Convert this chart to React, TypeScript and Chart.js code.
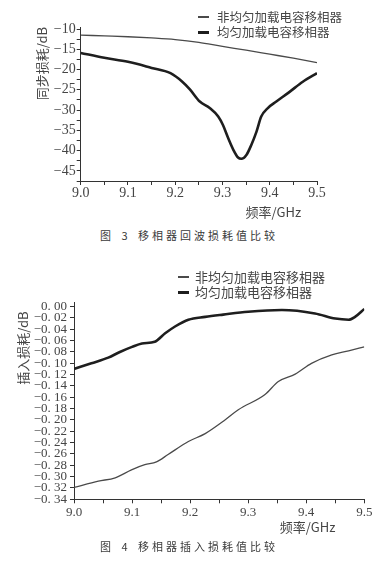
import React, { useEffect, useRef } from 'react';
import { Chart, registerables } from 'chart.js';

Chart.register(...registerables);

// ---------- shared ----------
const seriesNames = ['非均匀加载电容移相器', '均匀加载电容移相器'];
const seriesColors = ['#4a4a4a', '#1e1e1e'];
const seriesWidths = [1.3, 2.6];

const freqTicks = [9.0, 9.05, 9.1, 9.15, 9.2, 9.25, 9.3, 9.35, 9.4, 9.45, 9.5];
const freqTickLabels = ['9.0', '', '9.1', '', '9.2', '', '9.3', '', '9.4', '', '9.5'];

// ---------- Fig. 3 : return loss ----------
const rlFreqNonUniform = [9.0, 9.05, 9.1, 9.15, 9.2, 9.25, 9.3, 9.35, 9.4, 9.45, 9.5];
const rlNonUniform = [-11.5, -11.7, -11.9, -12.2, -12.6, -13.3, -14.3, -15.2, -16.2, -17.2, -18.3];
const rlFreqUniform = [9.0, 9.05, 9.1, 9.15, 9.19, 9.215, 9.231, 9.252, 9.273, 9.291, 9.301, 9.312, 9.323, 9.333, 9.34, 9.351, 9.361, 9.372, 9.382, 9.396, 9.414, 9.442, 9.47, 9.5];
const rlUniform = [-15.9, -17.1, -18.1, -19.6, -20.9, -23.0, -24.9, -27.9, -29.5, -31.6, -33.7, -36.9, -39.8, -41.7, -42.0, -41.0, -38.6, -35.3, -31.6, -29.5, -27.9, -25.5, -23.0, -20.9];
const rlTicks = [-47.5, -45, -42.5, -40, -37.5, -35, -32.5, -30, -27.5, -25, -22.5, -20, -17.5, -15, -12.5, -10];
const rlTickLabels = ['', '−45', '', '−40', '', '−35', '', '−30', '', '−25', '', '−20', '', '−15', '', '−10'];

// ---------- Fig. 4 : insertion loss ----------
const ilFreqNonUniform = [9.0, 9.042, 9.071, 9.099, 9.122, 9.142, 9.162, 9.197, 9.226, 9.26, 9.283, 9.329, 9.352, 9.381, 9.409, 9.444, 9.473, 9.5];
const ilNonUniform = [-0.319, -0.308, -0.302, -0.288, -0.279, -0.274, -0.261, -0.238, -0.224, -0.2, -0.182, -0.155, -0.132, -0.119, -0.1, -0.085, -0.078, -0.071];
const ilFreqUniform = [9.0, 9.03, 9.059, 9.079, 9.1, 9.117, 9.139, 9.157, 9.174, 9.197, 9.226, 9.257, 9.3, 9.358, 9.415, 9.45, 9.473, 9.484, 9.5];
const ilUniform = [-0.11, -0.1, -0.09, -0.08, -0.071, -0.065, -0.062, -0.047, -0.035, -0.023, -0.018, -0.014, -0.009, -0.006, -0.012, -0.021, -0.023, -0.018, -0.004];
const ilTicks = [-0.34, -0.32, -0.3, -0.28, -0.26, -0.24, -0.22, -0.2, -0.18, -0.16, -0.14, -0.12, -0.1, -0.08, -0.06, -0.04, -0.02, 0];
const ilTickLabels = ['−0. 34', '−0. 32', '−0. 30', '−0. 28', '−0. 26', '−0. 24', '−0. 22', '−0. 20', '−0. 18', '−0. 16', '−0. 14', '−0. 12', '−0. 10', '−0. 08', '−0. 06', '−0. 04', '−0. 02', '0. 00'];

const TEXT = '#454545';
const AXIS = '#333333';
const CJK = "'Noto Sans CJK SC', sans-serif";
const SERIF = "'Liberation Serif', 'DejaVu Serif', serif";

type Spec = {
  width: number;
  height: number;
  xs: number[][];
  ys: number[][];
  yMin: number;
  yMax: number;
  yTicks: number[];
  yLabels: string[];
  yTitle: string;
  xTitle: string;
  pad: { left: number; right: number; top: number; bottom: number };
  yWidth: number;
  xHeight: number;
  tickSize: number;
  yTickPad: number;
  xTickPad: number;
  yTitleOffset: number;
  xTitleOffset: number;
};

function makeConfig(s: Spec): any {
  return {
    type: 'line',
    data: {
      datasets: s.ys.map((vals, i) => ({
        label: seriesNames[i],
        data: vals.map((v, j) => ({ x: s.xs[i][j], y: v })),
        borderColor: seriesColors[i],
        backgroundColor: seriesColors[i],
        borderWidth: seriesWidths[i],
        pointRadius: 0,
        fill: false,
        cubicInterpolationMode: 'monotone',
      })),
    },
    options: {
      responsive: false,
      animation: false,
      events: [],
      layout: { padding: s.pad },
      plugins: { legend: { display: false }, tooltip: { enabled: false } },
      scales: {
        x: {
          type: 'linear',
          min: 9.0,
          max: 9.5,
          afterBuildTicks: (sc: any) => {
            sc.ticks = freqTicks.map((v) => ({ value: v }));
          },
          afterFit: (sc: any) => {
            sc.height = s.xHeight;
          },
          border: { display: true, color: AXIS, width: 1 },
          grid: { drawOnChartArea: false, drawTicks: true, tickLength: 4, color: AXIS },
          ticks: {
            autoSkip: false,
            maxRotation: 0,
            padding: s.xTickPad,
            color: TEXT,
            font: { family: SERIF, size: s.tickSize },
            callback: (_v: any, i: number) => freqTickLabels[i],
          },
          title: {
            display: true,
            text: s.xTitle,
            align: 'end',
            color: TEXT,
            font: { family: CJK, size: 13 },
            padding: { top: 0, bottom: s.xTitleOffset },
          },
        },
        y: {
          type: 'linear',
          min: s.yMin,
          max: s.yMax,
          afterBuildTicks: (sc: any) => {
            sc.ticks = s.yTicks.map((v) => ({ value: v }));
          },
          afterFit: (sc: any) => {
            sc.width = s.yWidth;
          },
          border: { display: true, color: AXIS, width: 1 },
          grid: { drawOnChartArea: false, drawTicks: true, tickLength: 4, color: AXIS },
          ticks: {
            autoSkip: false,
            padding: s.yTickPad,
            color: TEXT,
            font: { family: SERIF, size: s.tickSize },
            callback: (_v: any, i: number) => s.yLabels[i],
          },
          title: {
            display: true,
            text: s.yTitle,
            align: 'end',
            color: TEXT,
            font: { family: CJK, size: 13 },
            padding: { top: s.yTitleOffset, bottom: 0 },
          },
        },
      },
    },
  };
}

function ChartCanvas({ spec, top }: { spec: Spec; top: number }) {
  const ref = useRef<HTMLCanvasElement | null>(null);
  useEffect(() => {
    if (!ref.current) return;
    const chart = new Chart(ref.current, makeConfig(spec));
    return () => chart.destroy();
  }, [spec]);
  return (
    <canvas
      ref={ref}
      width={spec.width}
      height={spec.height}
      style={{ position: 'absolute', left: 0, top, width: spec.width, height: spec.height }}
    />
  );
}

function Legend({ left, textLeft, rows, fontSize }: { left: number; textLeft: number; rows: number[]; fontSize: number }) {
  return (
    <>
      {seriesNames.map((name, i) => (
        <div
          key={name}
          style={{
            position: 'absolute',
            left,
            top: rows[i] - 10,
            height: 20,
            display: 'flex',
            alignItems: 'center',
            whiteSpace: 'nowrap',
          }}
        >
          <span
            style={{
              display: 'inline-block',
              width: 11,
              height: i === 0 ? 1.5 : 3,
              background: seriesColors[i],
              marginRight: textLeft - left - 11,
            }}
          />
          <span style={{ fontFamily: CJK, fontSize, color: TEXT, lineHeight: '20px' }}>{name}</span>
        </div>
      ))}
    </>
  );
}

function Caption({ text, top }: { text: string; top: number }) {
  return (
    <div
      style={{
        position: 'absolute',
        left: 100,
        top,
        fontFamily: CJK,
        fontSize: 11,
        lineHeight: '16px',
        letterSpacing: '3px',
        wordSpacing: '2px',
        color: '#3a3a3a',
        whiteSpace: 'nowrap',
      }}
    >
      {text}
    </div>
  );
}

const fig3: Spec = {
  width: 390,
  height: 225,
  xs: [rlFreqNonUniform, rlFreqUniform],
  ys: [rlNonUniform, rlUniform],
  yMin: -47.5,
  yMax: -9.5,
  yTicks: rlTicks,
  yLabels: rlTickLabels,
  yTitle: '同步损耗/dB',
  xTitle: '频率/GHz\u3000 ',
  pad: { left: 0, right: 73, top: 27, bottom: 0 },
  yWidth: 80.7,
  xHeight: 44,
  tickSize: 14,
  yTickPad: 1,
  xTickPad: 0,
  yTitleOffset: 34,
  xTitleOffset: 5,
};

const fig4: Spec = {
  width: 390,
  height: 280,
  xs: [ilFreqNonUniform, ilFreqUniform],
  ys: [ilNonUniform, ilUniform],
  yMin: -0.34,
  yMax: 0.007,
  yTicks: ilTicks,
  yLabels: ilTickLabels,
  yTitle: '插入损耗/dB   ',
  xTitle: '频率/GHz\u3000\u3000 ',
  pad: { left: 0, right: 25.7, top: 42.7, bottom: 0 },
  yWidth: 74,
  xHeight: 40.7,
  tickSize: 13,
  yTickPad: 3,
  xTickPad: 1,
  yTitleOffset: 15.7,
  xTitleOffset: 5.5,
};

export default function App() {
  return (
    <div style={{ position: 'absolute', left: 0, top: 0, width: 390, height: 576, background: '#fff', overflow: 'hidden' }}>
      <ChartCanvas spec={fig3} top={0} />
      <Legend left={198} textLeft={217} rows={[17, 32]} fontSize={12.5} />
      <Caption text="图 3 移相器回波损耗值比较" top={227} />
      <ChartCanvas spec={fig4} top={260} />
      <Legend left={178} textLeft={195} rows={[277, 292]} fontSize={13} />
      <Caption text="图 4 移相器插入损耗值比较" top={538} />
    </div>
  );
}
